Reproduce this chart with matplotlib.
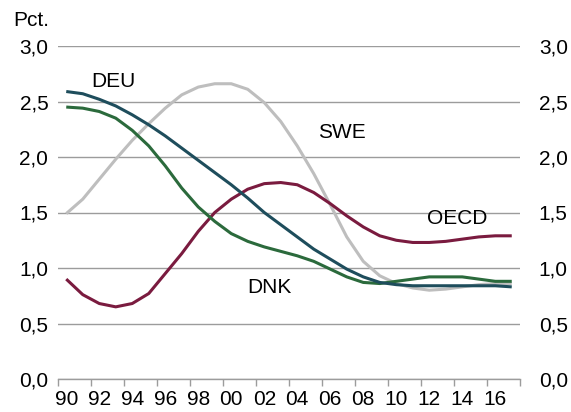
import numpy as np
import matplotlib
matplotlib.use('Agg')
import matplotlib.pyplot as plt

plt.rcParams['font.family'] = ['Liberation Sans', 'DejaVu Sans']

# Data
years = list(range(1990, 2018))
deu = [2.59, 2.57, 2.52, 2.46, 2.38, 2.29, 2.19, 2.08, 1.97, 1.86, 1.75, 1.63, 1.50,
       1.39, 1.28, 1.17, 1.08, 0.99, 0.92, 0.87, 0.85, 0.84, 0.84, 0.84, 0.84, 0.84,
       0.84, 0.83]
dnk = [2.45, 2.44, 2.41, 2.35, 2.24, 2.10, 1.92, 1.72, 1.55, 1.42, 1.31, 1.24, 1.19,
       1.15, 1.11, 1.06, 0.99, 0.92, 0.87, 0.86, 0.88, 0.90, 0.92, 0.92, 0.92, 0.90,
       0.88, 0.88]
swe = [1.49, 1.62, 1.80, 1.98, 2.15, 2.30, 2.44, 2.56, 2.63, 2.66, 2.66, 2.61, 2.49,
       2.32, 2.10, 1.85, 1.57, 1.28, 1.06, 0.93, 0.86, 0.82, 0.80, 0.81, 0.83, 0.85,
       0.86, 0.86]
oecd = [0.90, 0.76, 0.68, 0.65, 0.68, 0.77, 0.95, 1.13, 1.33, 1.50, 1.62, 1.71, 1.76,
        1.77, 1.75, 1.68, 1.58, 1.47, 1.37, 1.29, 1.25, 1.23, 1.23, 1.24, 1.26, 1.28,
        1.29, 1.29]
yticks = [0.0, 0.5, 1.0, 1.5, 2.0, 2.5, 3.0]
xlabel_years = list(range(1990, 2017, 2))

c_deu = '#1E4D5C'
c_dnk = '#2B6A3C'
c_swe = '#BEBEBE'
c_oecd = '#7A1B3F'
grid_c = '#9C9C9C'
fs = 15

fig = plt.figure(figsize=(5.71, 4.12), dpi=100)
ax = fig.add_axes([58 / 571, 33 / 412, 462 / 571, 333 / 412])

ax.plot(years, swe, color=c_swe, lw=2.2, solid_capstyle='butt')
ax.plot(years, oecd, color=c_oecd, lw=2.2, solid_capstyle='butt')
ax.plot(years, dnk, color=c_dnk, lw=2.2, solid_capstyle='butt')
ax.plot(years, deu, color=c_deu, lw=2.2, solid_capstyle='butt')

ax.set_xlim(1989.5, 2017.5)
ax.set_ylim(0, 3.0)

for s in ['top', 'left', 'right']:
    ax.spines[s].set_visible(False)
ax.spines['bottom'].set_color(grid_c)
ax.spines['bottom'].set_linewidth(1.0)

ax.set_yticks(yticks)
ax.set_yticklabels([f'{v:.1f}'.replace('.', ',') for v in yticks])
ax.tick_params(axis='y', length=0, pad=7, labelsize=fs)
ax.yaxis.grid(True, color=grid_c, lw=1.0)
ax.set_axisbelow(True)

# boundary ticks every 2 years, labels at category centres
ax.set_xticks(np.arange(1989.5, 2018, 2))
ax.set_xticklabels([])
ax.tick_params(axis='x', which='major', direction='out', length=5, color=grid_c, width=1.0)
ax.set_xticks(xlabel_years, minor=True)
ax.set_xticklabels([f'{y % 100:02d}' for y in xlabel_years], minor=True)
ax.tick_params(axis='x', which='minor', length=0, pad=8, labelsize=fs)

ax2 = ax.twinx()
ax2.set_ylim(ax.get_ylim())
ax2.set_yticks(yticks)
ax2.set_yticklabels([f'{v:.1f}'.replace('.', ',') for v in yticks])
ax2.tick_params(axis='y', length=0, pad=13.5, labelsize=fs)
for s in ax2.spines.values():
    s.set_visible(False)

ax.text(1992.85, 2.68, 'DEU', fontsize=fs, ha='center', va='center')
ax.text(2006.7, 2.22, 'SWE', fontsize=fs, ha='center', va='center')
ax.text(2013.7, 1.45, 'OECD', fontsize=fs, ha='center', va='center')
ax.text(2002.3, 0.82, 'DNK', fontsize=fs, ha='center', va='center')
fig.text(13 / 571, 1 - 20 / 412, 'Pct.', fontsize=fs, ha='left', va='center')

fig.savefig('out.png', dpi=100)
